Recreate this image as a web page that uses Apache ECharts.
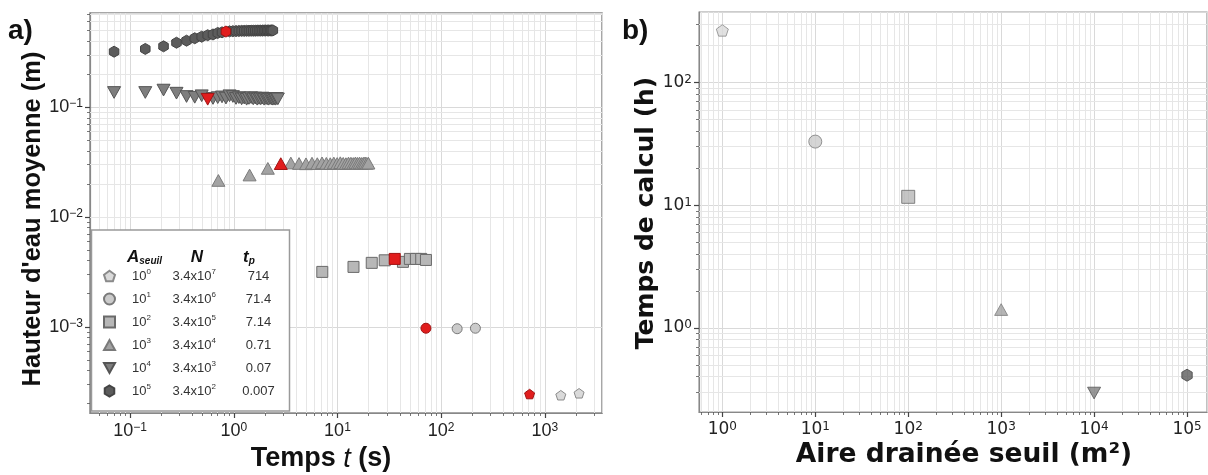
<!DOCTYPE html>
<html><head><meta charset="utf-8">
<script src="https://cdn.jsdelivr.net/npm/echarts@6/dist/echarts.min.js"></script>
<style>html,body{margin:0;padding:0;background:#fff}#c{width:1208px;height:475px}</style>
</head><body><div id="c"></div>
<script>
// ---------- DATA (panel a) ----------
const seriesNames = ['A0', 'A1', 'A2', 'A3', 'A4', 'A5'];
const legendArea = ['0', '1', '2', '3', '4', '5'];
const legendN = ['7', '6', '5', '4', '3', '2'];
const legendTp = ['714', '71.4', '7.14', '0.71', '0.07', '0.007'];

const timeA0 = [714, 1428, 2142];
const heightA0 = [2.44e-4, 2.38e-4, 2.48e-4];
const timeA1 = [71.4, 142.8, 214.2];
const heightA1 = [9.7e-4, 9.6e-4, 9.7e-4];
const timeA2 = [7.14, 14.28, 21.42, 28.56, 35.7, 42.84, 49.98, 57.12, 64.26, 71.4];
const heightA2 = [3.16e-3, 3.51e-3, 3.82e-3, 4.03e-3, 4.15e-3, 3.90e-3, 4.15e-3, 4.15e-3, 4.15e-3, 4.06e-3];
const timeA3 = [0.71, 1.42, 2.13, 2.84, 3.55, 4.26, 4.97, 5.68, 6.39, 7.10, 7.81, 8.52, 9.23, 9.94,
  10.65, 11.36, 12.07, 12.78, 13.49, 14.20, 14.91, 15.62, 16.33, 17.04, 17.75, 18.46, 19.17, 19.88];
const heightA3 = [0.0215, 0.0241, 0.0277, 0.0306, 0.0310, 0.0307, 0.0305, 0.0309, 0.0306, 0.0311,
  0.0308, 0.0306, 0.0310, 0.0307, 0.0312, 0.0308, 0.0306, 0.0310, 0.0309, 0.0307, 0.0311, 0.0308,
  0.0310, 0.0307, 0.0309, 0.0311, 0.0308, 0.0309];
const timeA4 = [0.07, 0.14, 0.21, 0.28, 0.35, 0.42, 0.49, 0.56, 0.63, 0.70, 0.77, 0.84, 0.91, 0.98,
  1.05, 1.12, 1.19, 1.26, 1.33, 1.40, 1.47, 1.54, 1.61, 1.68, 1.75, 1.82, 1.89, 1.96, 2.03, 2.10,
  2.17, 2.24, 2.31, 2.38, 2.45, 2.52, 2.59, 2.66];
const heightA4 = [0.136, 0.136, 0.143, 0.134, 0.125, 0.123, 0.127, 0.118, 0.120, 0.122, 0.124, 0.121,
  0.127, 0.125, 0.120, 0.122, 0.119, 0.121, 0.118, 0.120, 0.122, 0.119, 0.121, 0.118, 0.120, 0.119,
  0.121, 0.118, 0.120, 0.119, 0.118, 0.120, 0.119, 0.118, 0.119, 0.118, 0.120, 0.119];
const timeA5 = [0.07, 0.14, 0.21, 0.28, 0.35, 0.42, 0.49, 0.56, 0.63, 0.70, 0.77, 0.84, 0.91, 0.98,
  1.05, 1.12, 1.19, 1.26, 1.33, 1.40, 1.47, 1.54, 1.61, 1.68, 1.75, 1.82, 1.89, 1.96, 2.03, 2.10,
  2.17, 2.24, 2.31, 2.38];
const heightA5 = [0.320, 0.339, 0.358, 0.386, 0.403, 0.424, 0.438, 0.452, 0.459, 0.474, 0.480, 0.488,
  0.490, 0.492, 0.493, 0.494, 0.495, 0.495, 0.496, 0.496, 0.497, 0.497, 0.497, 0.498, 0.498, 0.498,
  0.498, 0.499, 0.499, 0.499, 0.499, 0.499, 0.500, 0.500];
const redIndex = [0, 0, 4, 3, 7, 11];

// ---------- DATA (panel b) ----------
const areaThreshold = [1, 10, 100, 1000, 10000, 100000];
const calcHours = [266, 33, 11.7, 1.41, 0.294, 0.411];

// ---------- STYLES ----------
const PENT = 'path://M0,-1 L0.951,-0.309 L0.588,0.809 L-0.588,0.809 L-0.951,-0.309 Z';
const HEX = 'path://M0,-1 L0.866,-0.5 L0.866,0.5 L0,1 L-0.866,0.5 L-0.866,-0.5 Z';
const DOWN = 'path://M-1,-0.9 L1,-0.9 L0,0.9 Z';
const UP = 'path://M-1,0.9 L1,0.9 L0,-0.9 Z';
const symbols = [PENT, 'circle', 'rect', UP, DOWN, HEX];
const sizesA = [10, 10, 11, 13, 13, 11];
const sizesB = [12, 13, 13, 13, 13, 12];
const fills = ['#dadada', '#cbcbcb', '#b7b7b7', '#a3a3a3', '#7e7e7e', '#5c5c5c'];
const edges = ['#8a8a8a', '#7a7a7a', '#6a6a6a', '#7a7a7a', '#555555', '#444444'];
const RED = '#e11d1d', RED_EDGE = '#a01212';

const timesA = [timeA0, timeA1, timeA2, timeA3, timeA4, timeA5];
const heightsA = [heightA0, heightA1, heightA2, heightA3, heightA4, heightA5];

const FA = 'Liberation Sans, Arial, sans-serif';
const FB = 'DejaVu Sans, sans-serif';

function minorVals(lo, hi) {
  const out = [];
  for (let e = Math.floor(Math.log10(lo)); e <= Math.ceil(Math.log10(hi)); e++)
    for (let m = 2; m <= 9; m++) { const v = m * Math.pow(10, e); if (v > lo && v < hi) out.push(v); }
  return out;
}
function pow10(v) {
  const l = Math.log10(v), e = Math.round(l);
  if (Math.abs(l - e) > 1e-6) return '';
  return '10{s|' + (e < 0 ? '\u2212' + (-e) : e) + '}';
}

const AX = { xmin: 0.041, xmax: 3565, ymin: 1.64e-4, ymax: 0.72 };
const BX = { xmin: 0.561, xmax: 164000, ymin: 0.206, ymax: 376 };

function logAxis(gi, min, max, font, fs, isX) {
  return {
    type: 'log', logBase: 10, gridIndex: gi, min: min, max: max, position: isX ? 'bottom' : 'left',
    axisLine: { show: true, lineStyle: { color: '#888', width: 1.2 } },
    axisTick: { show: true, length: 5, inside: false, lineStyle: { color: '#444', width: 1.2 } },
    splitLine: { show: true, lineStyle: { color: '#d9d9d9', width: 1 } },
    axisLabel: {
      formatter: pow10, fontFamily: font, fontSize: fs, color: '#222',
      margin: isX ? 9 : 7, showMinLabel: false, showMaxLabel: false,
      rich: { s: { fontFamily: font, fontSize: Math.round(fs * 0.68), verticalAlign: 'top', lineHeight: 10, color: '#222' } }
    }
  };
}
function minorTickAxis(gi, min, max, isX) {
  return {
    type: 'log', logBase: 10, gridIndex: gi, min: min, max: max,
    position: isX ? 'bottom' : 'left', offset: 0,
    axisLine: { show: false }, splitLine: { show: false },
    axisLabel: { show: false },
    axisTick: { show: true, length: 3, inside: false, customValues: minorVals(min, max),
      lineStyle: { color: '#555', width: 0.8 } }
  };
}

const series = [];
// minor grid lines
[[0, AX], [1, BX]].forEach(([gi, ax]) => {
  const d = minorVals(ax.xmin, ax.xmax).map(v => ({ xAxis: v }))
    .concat(minorVals(ax.ymin, ax.ymax).map(v => ({ yAxis: v })));
  series.push({
    type: 'scatter', name: 'grid' + gi, xAxisIndex: gi, yAxisIndex: gi, data: [], z: 1, silent: true,
    markLine: { silent: true, symbol: ['none', 'none'], label: { show: false }, z: 1, animation: false,
      lineStyle: { color: '#e6e6e6', width: 1, type: 'solid' }, emphasis: { disabled: true }, data: d }
  });
});
// panel a (red reference point drawn last so it sits on top)
for (let i = 0; i < 6; i++) {
  const pts = timesA[i].map((t, j) => ({ value: [t, heightsA[i][j]] }));
  const red = pts.splice(redIndex[i], 1)[0];
  red.itemStyle = { color: RED, borderColor: RED_EDGE };
  pts.push(red);
  series.push({
    type: 'scatter', name: seriesNames[i], xAxisIndex: 0, yAxisIndex: 0, z: 10,
    symbol: symbols[i], symbolSize: sizesA[i], symbolKeepAspect: true,
    itemStyle: { color: fills[i], borderColor: edges[i], borderWidth: 1, opacity: 1 },
    data: pts
  });
}
// panel b
series.push({
  type: 'scatter', name: 'calc', xAxisIndex: 1, yAxisIndex: 1, z: 10, symbolKeepAspect: true,
  data: areaThreshold.map((a, i) => ({
    value: [a, calcHours[i]], symbol: symbols[i], symbolSize: sizesB[i],
    itemStyle: { color: fills[i], borderColor: edges[i], borderWidth: 1 }
  }))
});

const option = {
  animation: false,
  backgroundColor: '#fff',
  grid: [
    { left: 90, top: 13, width: 512, height: 400, show: true, borderColor: '#8a8a8a', borderWidth: 1.5, backgroundColor: 'transparent' },
    { left: 699, top: 12, width: 508, height: 400, show: true, borderColor: '#999', borderWidth: 1.2, backgroundColor: 'transparent' }
  ],
  xAxis: [logAxis(0, AX.xmin, AX.xmax, FA, 18, true), logAxis(1, BX.xmin, BX.xmax, FB, 17, true),
          minorTickAxis(0, AX.xmin, AX.xmax, true), minorTickAxis(1, BX.xmin, BX.xmax, true)],
  yAxis: [logAxis(0, AX.ymin, AX.ymax, FA, 18, false), logAxis(1, BX.ymin, BX.ymax, FB, 17, false),
          minorTickAxis(0, AX.ymin, AX.ymax, false), minorTickAxis(1, BX.ymin, BX.ymax, false)],
  legend: {
    show: true, orient: 'vertical', left: 103, top: 268, itemWidth: 11, itemHeight: 11, itemGap: 7,
    padding: 0, z: 100, selectedMode: false, data: seriesNames,
    textStyle: {
      fontFamily: FA, fontSize: 12, color: '#333', lineHeight: 16,
      rich: {
        a: { fontFamily: FA, fontSize: 13, color: '#333', padding: [0, 0, 0, 12], lineHeight: 16 },
        as: { fontFamily: FA, fontSize: 8, color: '#333', width: 26, verticalAlign: 'top', lineHeight: 9 },
        n: { fontFamily: FA, fontSize: 13, color: '#333', lineHeight: 16 },
        ns: { fontFamily: FA, fontSize: 8, color: '#333', width: 25, verticalAlign: 'top', lineHeight: 9 },
        t: { fontFamily: FA, fontSize: 13, color: '#333', width: 44, align: 'center', lineHeight: 16 }
      }
    },
    formatter: function (name) {
      const i = seriesNames.indexOf(name);
      return '{a|10}{as|' + legendArea[i] + '}{n|3.4x10}{ns|' + legendN[i] + '}{t|' + legendTp[i] + '}';
    }
  },
  graphic: [
    { type: 'rect', z: 50, shape: { x: 91.5, y: 230, width: 198, height: 181 },
      style: { fill: '#fff', stroke: '#9a9a9a', lineWidth: 1.5 } },
    { type: 'text', z: 60, x: 127, y: 257, style: { text: '{A|A}{s|seuil}', textVerticalAlign: 'middle',
      rich: { A: { fontFamily: FA, fontSize: 17, fontWeight: 'bold', fontStyle: 'italic', fill: '#111', lineHeight: 18 },
              s: { fontFamily: FA, fontSize: 10, fontWeight: 'bold', fontStyle: 'italic', fill: '#111', verticalAlign: 'bottom', lineHeight: 10 } } } },
    { type: 'text', z: 60, x: 197, y: 257, style: { text: 'N', textAlign: 'center', textVerticalAlign: 'middle',
      font: 'italic bold 17px ' + FA, fill: '#111' } },
    { type: 'text', z: 60, x: 243, y: 257, style: { text: '{A|t}{s|p}', textVerticalAlign: 'middle',
      rich: { A: { fontFamily: FA, fontSize: 17, fontWeight: 'bold', fontStyle: 'italic', fill: '#111', lineHeight: 18 },
              s: { fontFamily: FA, fontSize: 10, fontWeight: 'bold', fontStyle: 'italic', fill: '#111', verticalAlign: 'bottom', lineHeight: 10 } } } },
    { type: 'text', x: 8, y: 31, style: { text: 'a)', font: 'bold 28px ' + FA, fill: '#111', textVerticalAlign: 'middle' } },
    { type: 'text', x: 622, y: 31, style: { text: 'b)', font: 'bold 28px ' + FA, fill: '#111', textVerticalAlign: 'middle' } },
    { type: 'text', x: 33, y: 219, rotation: Math.PI / 2, style: { text: "Hauteur d'eau moyenne (m)", font: 'bold 25.5px ' + FA,
      fill: '#111', textAlign: 'center', textVerticalAlign: 'middle' } },
    { type: 'text', x: 321, y: 459, style: { text: '{r|Temps }{i|t}{r| (s)}', textAlign: 'center', textVerticalAlign: 'middle',
      rich: { r: { fontFamily: FA, fontSize: 27, fontWeight: 'bold', fill: '#111' },
              i: { fontFamily: FA, fontSize: 27, fontStyle: 'italic', fill: '#111' } } } },
    { type: 'text', x: 646, y: 213, rotation: Math.PI / 2, style: { text: 'Temps de calcul (h)', font: 'bold 25px ' + FB,
      fill: '#111', textAlign: 'center', textVerticalAlign: 'middle' } },
    { type: 'text', x: 964, y: 455, style: { text: 'Aire drainée seuil (m²)', font: 'bold 26.5px ' + FB,
      fill: '#111', textAlign: 'center', textVerticalAlign: 'middle' } }
  ],
  series: series
};

const chart = echarts.init(document.getElementById('c'), null, { renderer: 'canvas' });
chart.setOption(option);
</script></body></html>
